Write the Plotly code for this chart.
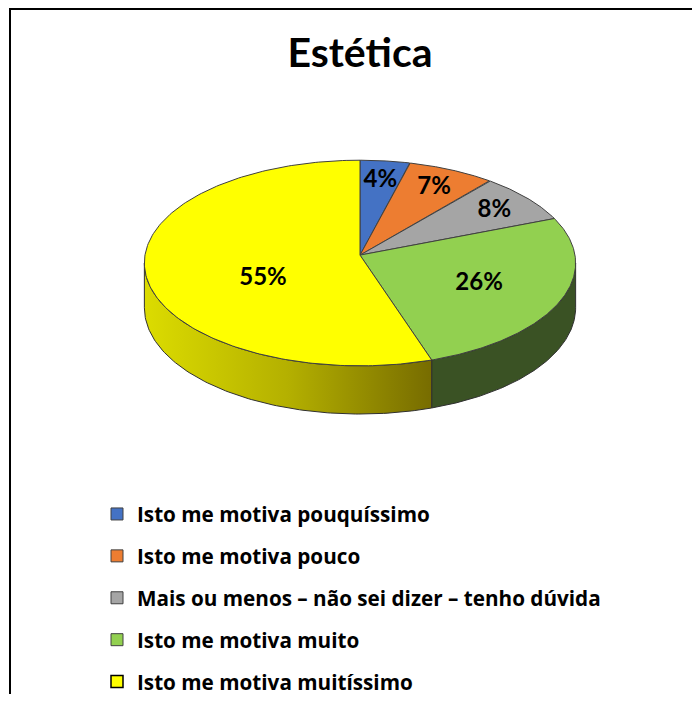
import numpy as np
import plotly.graph_objects as go

# ---------------- data ----------------
title = "Estética"
categories = [
    "Isto me motiva pouquíssimo",
    "Isto me motiva pouco",
    "Mais ou menos – não sei dizer – tenho dúvida",
    "Isto me motiva muito",
    "Isto me motiva muitíssimo",
]
values = [4, 7, 8, 26, 55]
labels = ["4%", "7%", "8%", "26%", "55%"]

# ---------------- style ----------------
top_colors = ["#4472C4", "#ED7D31", "#A5A5A5", "#92D050", "#FFFF00"]
side_colors = ["#2F528F", "#AE5A21", "#7B7B7B", "#3A5224", "#B8B400"]
yellow_side_scale = [[0, "#DCDC00"], [0.5, "#B4B000"], [1, "#776C00"]]
FONT = "Lato"
LEG_FONT = "Open Sans"

# page offset (browser body margin) compensation
OFF = 8
W, H = 700 - OFF, 702 - OFF

# 3-D pie projection (pixel space, perspective tilt)
CX, CY = 360, 258
SX, SY = 215, 103.4
K = 0.0769
DEPTH = 45
LABEL_R = [0.8, 0.8, 0.8, 0.6, 0.49]
LABEL_DT = [0, 0, 0, 0, -16]


def proj(theta_deg, f=1.0, drop=0.0):
    t = np.radians(theta_deg)
    u, v = f * np.sin(t), f * np.cos(t)
    d = 1 + K * v
    return CX + SX * u / d, CY - SY * v / d + drop / d


def px(x):
    return (x - OFF) / W


def py(y):
    return 1 - (y - OFF) / H


total = float(sum(values))
bounds = np.concatenate([[0], np.cumsum(values)]) / total * 360.0
vis_lo = np.degrees(np.arccos(-K))
vis_hi = 360 - vis_lo

fig = go.Figure()

# side walls (front, visible part)
for i in range(len(values)):
    a, b = max(bounds[i], vis_lo), min(bounds[i + 1], vis_hi)
    if b <= a:
        continue
    th = np.linspace(a, b, 120)
    xt, yt = proj(th)
    xb, yb = proj(th[::-1], drop=DEPTH)
    xs = np.concatenate([xt, xb, xt[:1]])
    ys = np.concatenate([yt, yb, yt[:1]])
    kw = dict(fillcolor=side_colors[i])
    if i == len(values) - 1:
        kw = dict(fillgradient=dict(type="horizontal", colorscale=yellow_side_scale))
    fig.add_trace(go.Scatter(x=xs, y=ys, mode="lines", fill="toself",
                             line=dict(color="#303030", width=1),
                             hoverinfo="skip", showlegend=False, **kw))

# top faces
for i in range(len(values)):
    th = np.linspace(bounds[i], bounds[i + 1], 200)
    xr, yr = proj(th)
    xs = np.concatenate([[CX], xr, [CX]])
    ys = np.concatenate([[CY], yr, [CY]])
    fig.add_trace(go.Scatter(x=xs, y=ys, mode="lines", fill="toself",
                             fillcolor=top_colors[i],
                             line=dict(color="#404040", width=1),
                             hoverinfo="skip", showlegend=False))

# data labels
lx, ly = [], []
for i in range(len(values)):
    mid = (bounds[i] + bounds[i + 1]) / 2 + LABEL_DT[i]
    x, y = proj(mid, f=LABEL_R[i])
    lx.append(float(x))
    ly.append(float(y) + 2)
fig.add_trace(go.Scatter(x=lx, y=ly, mode="text", text=labels,
                         textfont=dict(family=FONT, size=24, color="black", weight="bold"),
                         hoverinfo="skip", showlegend=False))

# legend entries
for i, name in enumerate(categories):
    fig.add_trace(go.Scatter(
        x=[None], y=[None], mode="markers", name=name, legendgroup=f"g{i}",
        marker=dict(symbol="square", size=12, color=top_colors[i],
                    line=dict(color="#000000" if i == 4 else "#404040",
                              width=1.5 if i == 4 else 1)),
    ))

fig.update_layout(
    width=W, height=H,
    margin=dict(l=0, r=0, t=0, b=0),
    paper_bgcolor="white", plot_bgcolor="white",
    xaxis=dict(range=[OFF, 700], visible=False, fixedrange=True),
    yaxis=dict(range=[702, OFF], visible=False, fixedrange=True),
    title=dict(text=title, x=px(360), xanchor="center", xref="paper",
               y=py(53), yanchor="middle", yref="paper",
               font=dict(family=FONT, size=41, color="black", weight="bold")),
    legend=dict(x=px(97), xanchor="left", y=py(500), yanchor="top",
                font=dict(family=LEG_FONT, size=20.7, color="black", weight="bold"),
                tracegroupgap=12, bgcolor="rgba(0,0,0,0)", itemclick=False,
                itemdoubleclick=False),
    shapes=[
        dict(type="line", xref="x", yref="y", x0=10, x1=700, y0=OFF + 1, y1=OFF + 1,
             line=dict(color="black", width=2)),
        dict(type="line", xref="x", yref="y", x0=10, x1=10, y0=OFF, y1=702,
             line=dict(color="black", width=2)),
    ],
)

fig.write_html("out.html")
